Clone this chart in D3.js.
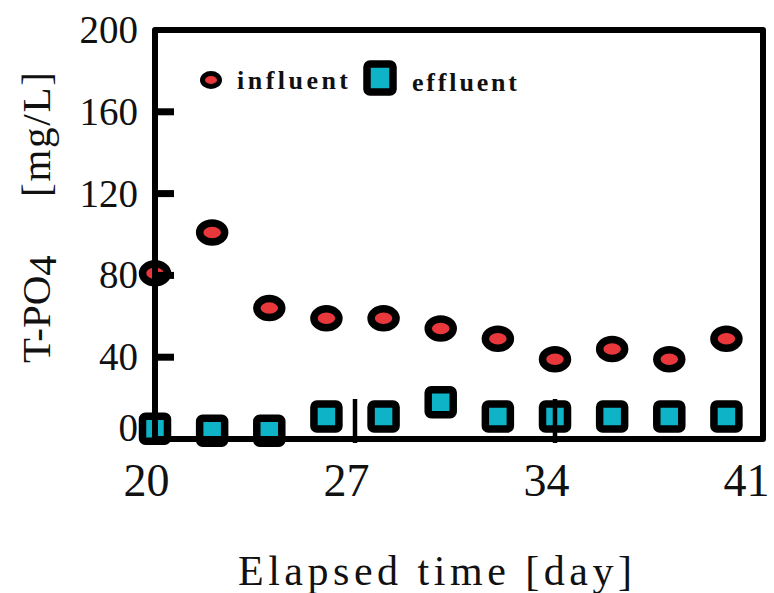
<!DOCTYPE html>
<html lang="en">
<head>
  <meta charset="UTF-8">
  <title></title>
  <style>
    body { margin: 0; background: #fff; }
  </style>
</head>
<body>
  <script src="https://d3js.org/d3.v7.min.js"></script>
  <script>
    const days = [20, 22, 24, 26, 28, 30, 32, 34, 36, 38, 40];
    const influent = [81, 101, 64, 59, 59, 54, 49, 39, 44, 39, 49];
    const effluent = [5, 4, 4, 11, 11, 18, 11, 11, 11, 11, 11];
    const xTicks = [20, 27, 34, 41];
    const yTicks = [0, 40, 80, 120, 160, 200];

    const [width, height] = [774, 593];
    const margin = { top: 30, right: 11, bottom: 154, left: 155 };
    const serif = "'Liberation Serif', 'Times New Roman', serif";
    const red = "#e8383c";
    const cyan = "#0fb3c8";

    const x = d3.scaleLinear().domain([20, 41]).range([margin.left, 755]);
    const y = d3
      .scaleLinear()
      .domain([0, 200])
      .range([height - margin.bottom, margin.top]);

    const svg = d3
      .select(document.body)
      .append("svg")
      .attr("xmlns", "http://www.w3.org/2000/svg")
      .attr("width", width)
      .attr("height", height)
      .attr("viewBox", [0, 0, width, height])
      .attr("font-family", serif);

    svg.append("rect").attr("width", width).attr("height", height).attr("fill", "#fff");

    // tick labels (drawn first so markers can sit over the "0")
    const xAxis = (g) =>
      g
        .attr("transform", `translate(0,${y(0)})`)
        .call(d3.axisBottom(x).tickValues(xTicks).tickSize(0).tickPadding(0))
        .call((g) => g.select(".domain").remove())
        .call((g) =>
          g
            .selectAll(".tick text")
            .attr("font-size", 46)
            .attr("font-family", serif)
            .attr("fill", "#111")
            .attr("dy", null)
            .attr("y", 57)
            .attr("dx", -9)
        );

    const yAxis = (g) =>
      g
        .attr("transform", `translate(${x(20)},0)`)
        .call(d3.axisLeft(y).tickValues(yTicks).tickSize(0).tickPadding(17))
        .call((g) => g.select(".domain").remove())
        .call((g) =>
          g
            .selectAll(".tick text")
            .attr("font-size", 39)
            .attr("font-family", serif)
            .attr("fill", "#111")
        )
        // the "0" sits a little higher so it clears the "20" below it
        .call((g) => g.selectAll(".tick text").filter((d) => d === 0).attr("y", -11));

    svg.append("g").call(xAxis);
    svg.append("g").call(yAxis);

    // axis titles
    svg
      .append("text")
      .attr("x", 238)
      .attr("y", 585)
      .attr("font-size", 42)
      .attr("fill", "#111")
      .attr("textLength", 394)
      .attr("lengthAdjust", "spacing")
      .text("Elapsed time [day]");

    const yTitle = svg
      .append("g")
      .attr("transform", "translate(50,0) rotate(-90)")
      .attr("font-size", 41)
      .attr("fill", "#111");
    yTitle
      .append("text")
      .attr("x", -363)
      .attr("y", 0)
      .call((t) => t.append("tspan").text("T-PO"))
      .call((t) => t.append("tspan").attr("dy", 6).text("4"));
    yTitle
      .append("text")
      .attr("x", -197)
      .attr("y", 0)
      .attr("textLength", 125)
      .attr("lengthAdjust", "spacing")
      .text("[mg/L]");

    // markers
    const pts = days.map((d, i) => ({ day: d, inf: influent[i], eff: effluent[i] }));
    const sq = 25;

    svg
      .append("g")
      .selectAll("ellipse")
      .data(pts)
      .join("ellipse")
      .attr("cx", (d) => x(d.day))
      .attr("cy", (d) => y(d.inf))
      .attr("rx", 12.5)
      .attr("ry", 9.5)
      .attr("fill", red)
      .attr("stroke", "#000")
      .attr("stroke-width", 7.5);

    svg
      .append("g")
      .selectAll("rect")
      .data(pts)
      .join("rect")
      .attr("x", (d) => x(d.day) - sq / 2)
      .attr("y", (d) => y(d.eff) - sq / 2)
      .attr("width", sq)
      .attr("height", sq)
      .attr("rx", 3)
      .attr("fill", cyan)
      .attr("stroke", "#000")
      .attr("stroke-width", 7.5);

    // frame and tick marks on top of the markers
    const frame = svg.append("g").attr("stroke", "#000").attr("fill", "none");
    frame
      .append("rect")
      .attr("x", x(20))
      .attr("y", y(200))
      .attr("width", 763 - x(20))
      .attr("height", y(0) - y(200))
      .attr("stroke-width", 6)
      .attr("stroke-linejoin", "round");
    frame
      .selectAll(".ytick")
      .data(yTicks.filter((v) => v > 0 && v < 200))
      .join("line")
      .attr("x1", x(20))
      .attr("x2", x(20) + 19)
      .attr("y1", (d) => y(d))
      .attr("y2", (d) => y(d))
      .attr("stroke-width", 7);
    frame
      .selectAll(".xtick")
      .data(xTicks.filter((v) => v > 20 && v < 41))
      .join("line")
      .attr("x1", (d) => x(d))
      .attr("x2", (d) => x(d))
      .attr("y1", y(0) + 4)
      .attr("y2", y(0) - 40)
      .attr("stroke-width", 4.5);

    // legend
    const legend = svg.append("g").attr("font-size", 26).attr("font-weight", "bold").attr("fill", "#111");
    legend
      .append("ellipse")
      .attr("cx", 211)
      .attr("cy", 80)
      .attr("rx", 8.5)
      .attr("ry", 6.5)
      .attr("fill", red)
      .attr("stroke", "#000")
      .attr("stroke-width", 5);
    legend
      .append("text")
      .attr("x", 237)
      .attr("y", 89)
      .attr("textLength", 111)
      .attr("lengthAdjust", "spacing")
      .text("influent");
    legend
      .append("rect")
      .attr("x", 367)
      .attr("y", 64)
      .attr("width", 26)
      .attr("height", 28)
      .attr("rx", 3)
      .attr("fill", cyan)
      .attr("stroke", "#000")
      .attr("stroke-width", 7.5);
    legend
      .append("text")
      .attr("x", 412)
      .attr("y", 91)
      .attr("textLength", 105)
      .attr("lengthAdjust", "spacing")
      .text("effluent");
  </script>
</body>
</html>
